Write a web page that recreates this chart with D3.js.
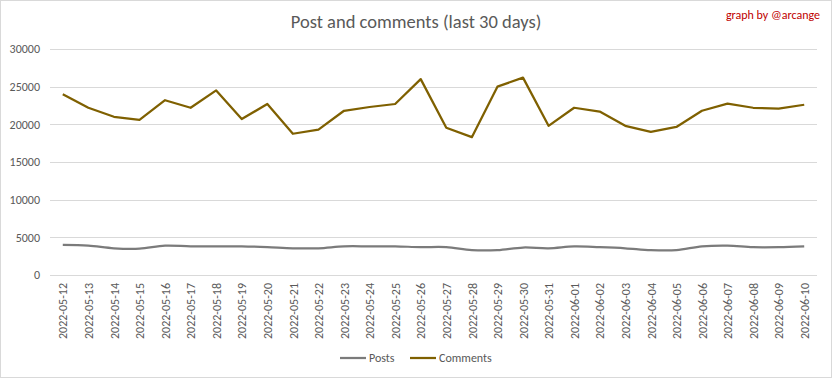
<!DOCTYPE html>
<html>
<head>
<meta charset="utf-8">
<script src="https://cdn.jsdelivr.net/npm/d3@7"></script>
<style>
	body { margin:0; background:#fff; }
	text { font-family: Calibri, Carlito, "Open Sans", sans-serif; }
</style>
</head>
<body>
<div id="chart"></div>
<script>
// data
const dates = ["2022-05-12","2022-05-13","2022-05-14","2022-05-15","2022-05-16","2022-05-17","2022-05-18","2022-05-19","2022-05-20","2022-05-21",
	"2022-05-22","2022-05-23","2022-05-24","2022-05-25","2022-05-26","2022-05-27","2022-05-28","2022-05-29","2022-05-30","2022-05-31",
	"2022-06-01","2022-06-02","2022-06-03","2022-06-04","2022-06-05","2022-06-06","2022-06-07","2022-06-08","2022-06-09","2022-06-10"];
const posts = [4000,3900,3550,3500,3900,3800,3800,3800,3700,3550,
	3550,3800,3800,3800,3700,3700,3300,3300,3650,3550,
	3800,3700,3550,3300,3300,3800,3900,3700,3700,3800];
const comments = [24000,22200,21000,20600,23200,22200,24500,20700,22700,18750,
	19300,21800,22300,22700,26000,19550,18300,25000,26200,19800,
	22200,21700,19800,19000,19650,21800,22750,22200,22100,22600];
const yTicks = [0,5000,10000,15000,20000,25000,30000];

function chart(){
	let width = 832, height = 378;
	let margin = {top:49, right:15, bottom:103, left:50};

	let svg = d3.select("#chart").append("svg")
		.attr("width", width)
		.attr("height", height);

	// outer border
	svg.append("rect")
		.attr("x",0.5).attr("y",0.5)
		.attr("width", width-1).attr("height", height-1)
		.attr("fill","#fff").attr("stroke","#d9d9d9");

	const xScale = d3.scalePoint()
		.domain(dates)
		.range([margin.left, width-margin.right])
		.padding(0.5);

	const yScale = d3.scaleLinear()
		.domain([0,30000])
		.range([height-margin.bottom, margin.top]);

	// grid
	svg.append("g")
		.selectAll("line")
		.data(yTicks)
		.enter().append("line")
		.attr("x1", margin.left).attr("x2", width-margin.right)
		.attr("y1", d=>Math.round(yScale(d))+0.5)
		.attr("y2", d=>Math.round(yScale(d))+0.5)
		.attr("stroke","#d9d9d9").attr("stroke-width",1);

	// y axis labels
	const yAxis = d3.axisLeft(yScale).tickValues(yTicks).tickSize(0).tickPadding(10).tickFormat(d=>d);
	svg.append("g")
		.attr("class","axis y_axis")
		.attr("transform",`translate(${margin.left},0)`)
		.call(yAxis)
		.call(g=>g.select(".domain").remove())
		.selectAll("text")
		.attr("fill","#595959").style("font-size","12px");

	// x axis labels
	const xAxis = d3.axisBottom(xScale).tickSize(0);
	svg.append("g")
		.attr("class","axis x_axis")
		.attr("transform",`translate(0,${height-margin.bottom})`)
		.call(xAxis)
		.call(g=>g.select(".domain").remove())
		.selectAll("text")
		.attr("fill","#595959").style("font-size","12px")
		.attr("text-anchor","end")
		.attr("dy","0.35em")
		.attr("transform","translate(0,8) rotate(-90)")
		.attr("x",0).attr("y",0);

	// lines
	const postLine = d3.line()
		.x((d,i)=>xScale(dates[i]))
		.y(d=>yScale(d))
		.curve(d3.curveCatmullRom.alpha(0.5));
	const commentLine = d3.line()
		.x((d,i)=>xScale(dates[i]))
		.y(d=>yScale(d));

	svg.append("path")
		.datum(posts)
		.attr("d", postLine)
		.attr("fill","none").attr("stroke","#7b7b7b").attr("stroke-width",2.25)
		.attr("stroke-linejoin","round");

	svg.append("path")
		.datum(comments)
		.attr("d", commentLine)
		.attr("fill","none").attr("stroke","#7f6000").attr("stroke-width",2.25)
		.attr("stroke-linejoin","round");

	// title
	svg.append("text")
		.attr("x", 416).attr("y", 28)
		.attr("text-anchor","middle")
		.attr("fill","#595959").style("font-size","18.5px")
		.text("Post and comments (last 30 days)");

	svg.append("text")
		.attr("x", 820).attr("y", 19)
		.attr("text-anchor","end")
		.attr("fill","#c00000").style("font-size","12px")
		.text("graph by @arcange");

	// legend
	const legend = [{name:"Posts", color:"#7b7b7b", x:340},{name:"Comments", color:"#7f6000", x:410}];
	const lg = svg.append("g").selectAll("g").data(legend).enter().append("g")
		.attr("transform", d=>`translate(${d.x},358)`);
	lg.append("line").attr("x1",0).attr("x2",26).attr("y1",0).attr("y2",0)
		.attr("stroke", d=>d.color).attr("stroke-width",2.25);
	lg.append("text").attr("x",29).attr("y",4)
		.attr("fill","#595959").style("font-size","12px")
		.text(d=>d.name);
}

chart();
</script>
</body>
</html>
